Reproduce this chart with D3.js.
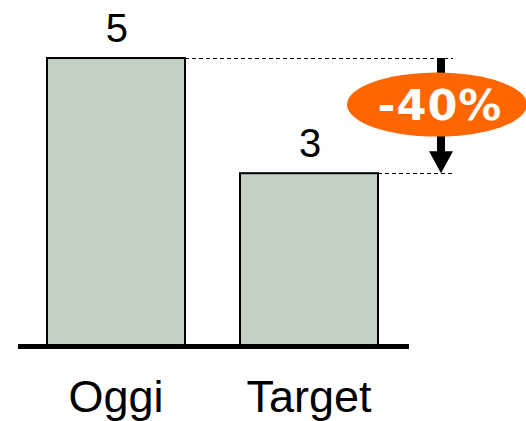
<!DOCTYPE html>
<html>
<head>
<meta charset="utf-8">
<script src="https://cdn.jsdelivr.net/npm/d3@7"></script>
<style>
  body { margin: 0; background: #fff; }
</style>
</head>
<body>
<svg id="chart" width="526" height="421"></svg>
<script>
const categories = ["Oggi", "Target"];
const values = [5, 3];
const changeLabel = "-40%";

const svg = d3.select("#chart");

const x = d3.scaleBand()
  .domain(categories)
  .range([47, 378])
  .paddingInner(0.285)
  .paddingOuter(0);

const y = d3.scaleLinear()
  .domain([0, 5])
  .range([346, 58]);

// dashed guide lines from bar tops
const guideEnd = 453;
svg.selectAll(".guide")
  .data(values)
  .join("line")
  .attr("x1", (d, i) => x(categories[i]) + x.bandwidth())
  .attr("x2", guideEnd)
  .attr("y1", d => Math.round(y(d)) + 0.5)
  .attr("y2", d => Math.round(y(d)) + 0.5)
  .attr("stroke", "#000")
  .attr("stroke-width", 1)
  .attr("stroke-dasharray", "4,3");

// bars
svg.selectAll(".bar")
  .data(values)
  .join("rect")
  .attr("x", (d, i) => x(categories[i]))
  .attr("y", d => y(d))
  .attr("width", x.bandwidth())
  .attr("height", d => y(0) - y(d))
  .attr("fill", "#c2d1c3")
  .attr("stroke", "#000")
  .attr("stroke-width", 2);

// value labels
svg.selectAll(".val")
  .data(values)
  .join("text")
  .attr("x", (d, i) => x(categories[i]) + x.bandwidth() / 2 + 1)
  .attr("y", d => y(d) - 16)
  .attr("text-anchor", "middle")
  .style("font-family", "'Liberation Sans', Arial, sans-serif")
  .style("font-size", "40px")
  .text(d => d);

// baseline
svg.append("line")
  .attr("x1", 18).attr("x2", 409)
  .attr("y1", y(0) + 0.5).attr("y2", y(0) + 0.5)
  .attr("stroke", "#000")
  .attr("stroke-width", 5);

// category labels
svg.selectAll(".cat")
  .data(categories)
  .join("text")
  .attr("x", d => x(d) + x.bandwidth() / 2)
  .attr("y", 412)
  .attr("text-anchor", "middle")
  .style("font-family", "'Liberation Sans', Arial, sans-serif")
  .style("font-size", "45px")
  .text(d => d);

// change arrow
const ax = 441;
const yTop = y(values[0]);
const yBot = y(values[1]);
svg.append("line")
  .attr("x1", ax).attr("x2", ax)
  .attr("y1", yTop).attr("y2", yBot - 20)
  .attr("stroke", "#000")
  .attr("stroke-width", 8);
svg.append("path")
  .attr("d", `M${ax - 12},${yBot - 22} L${ax + 12},${yBot - 22} L${ax},${yBot} Z`)
  .attr("fill", "#000");

// badge
const cy = (yTop + yBot) / 2 - 11;
svg.append("ellipse")
  .attr("cx", 437).attr("cy", cy)
  .attr("rx", 90).attr("ry", 32)
  .attr("fill", "#ff6600");
svg.append("text")
  .attr("x", 440).attr("y", cy + 15)
  .attr("text-anchor", "middle")
  .attr("fill", "#fff")
  .style("font-family", "'DejaVu Sans', Verdana, sans-serif")
  .style("font-weight", "bold")
  .style("font-size", "43px")
  .style("letter-spacing", "1px")
  .text(changeLabel);
</script>
</body>
</html>
